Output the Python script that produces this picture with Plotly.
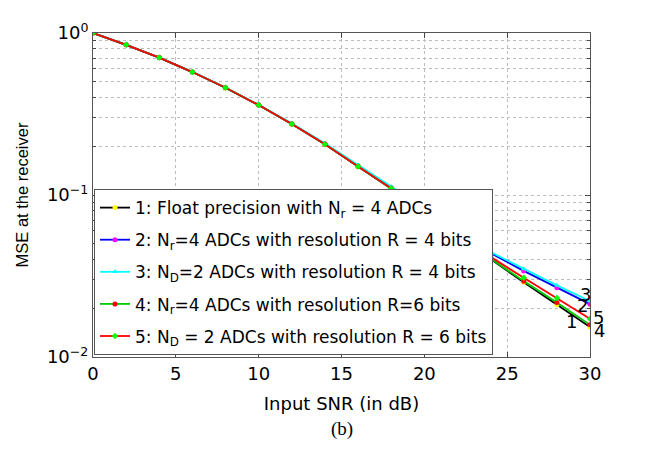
import math
import plotly.graph_objects as go

snr = [0, 2, 4, 6, 8, 10, 12, 14, 16, 18, 20, 22, 24, 26, 28, 30]

mse_float_nr4 = [1.0, 0.845, 0.705, 0.574, 0.459, 0.359, 0.274, 0.206, 0.150, 0.110, 0.0800, 0.0572, 0.0402, 0.0289, 0.0210, 0.0153]
mse_nr4_r4 = [1.0, 0.845, 0.705, 0.574, 0.459, 0.359, 0.275, 0.207, 0.151, 0.111, 0.0812, 0.0594, 0.0438, 0.0340, 0.0268, 0.0212]
mse_nd2_r4 = [1.0, 0.846, 0.706, 0.575, 0.460, 0.360, 0.276, 0.208, 0.153, 0.113, 0.0820, 0.0600, 0.0445, 0.0349, 0.0277, 0.0222]
mse_nr4_r6 = [1.0, 0.845, 0.705, 0.574, 0.459, 0.359, 0.274, 0.206, 0.150, 0.110, 0.0802, 0.0575, 0.0405, 0.0294, 0.0217, 0.0158]
mse_nd2_r6 = [1.0, 0.845, 0.705, 0.574, 0.459, 0.359, 0.274, 0.206, 0.150, 0.110, 0.0805, 0.0580, 0.0415, 0.0308, 0.0231, 0.0172]

names = [
    "1: Float precision with N<sub>r</sub> = 4 ADCs",
    "2: N<sub>r</sub>=4 ADCs with resolution R = 4 bits",
    "3: N<sub>D</sub>=2 ADCs with resolution R = 4 bits",
    "4: N<sub>r</sub>=4 ADCs with resolution R=6 bits",
    "5: N<sub>D</sub> = 2 ADCs with resolution R = 6 bits",
]

curve_labels = ["1", "2", "3", "4", "5"]
label_x = [28.9, 29.56, 29.7, 30.56, 30.5]
label_y = [0.01655, 0.0207, 0.0244, 0.0146, 0.0176]

y_tickvals = [1, 0.1, 0.01]
y_ticktext = ["10<sup>0</sup>", "10<sup>−1</sup>", "10<sup>−2</sup>"]
x_tickvals = [0, 5, 10, 15, 20, 25, 30]
x_max = 30

series = [mse_float_nr4, mse_nr4_r4, mse_nd2_r4, mse_nr4_r6, mse_nd2_r6]
line_colors = ["#000000", "#0000ff", "#00ffff", "#00cc00", "#ff0000"]
marker_colors = ["#ffff00", "#ff00ff", "#00ffff", "#ff0000", "#00ff00"]
marker_symbols = ["circle", "circle", "triangle-up", "circle", "diamond"]

SANS = "DejaVu Sans, Liberation Sans, Arial"

fig = go.Figure()
for i, (s, n, lc, mc, ms) in enumerate(zip(series, names, line_colors, marker_colors, marker_symbols)):
    fig.add_trace(go.Scatter(
        x=snr, y=s, name=n, mode="lines+markers", legendgroup=f"g{i}",
        line=dict(color=lc, width=1.8),
        marker=dict(color=mc, symbol=ms, size=5),
    ))

minor_vals = []
for dec in [0.01, 0.1]:
    for k in range(2, 10):
        minor_vals.append(k * dec)

# curve number labels (x in paper fraction so labels just past the right edge stay visible)
for lab, lx, ly in zip(curve_labels, label_x, label_y):
    fig.add_annotation(x=lx / x_max, y=math.log10(ly), yref="y", xref="paper", text=lab,
                       xanchor="center", yanchor="middle",
                       showarrow=False, font=dict(size=18, color="black", family=SANS))

fig.add_annotation(x=0.5, y=-0.222, xref="paper", yref="paper", text="(b)", showarrow=False,
                   font=dict(size=19, color="black", family="Liberation Serif, Times New Roman"),
                   xanchor="center", yanchor="middle")

fig.update_layout(
    width=654, height=451,
    margin=dict(l=85, r=72, t=20, b=102),
    paper_bgcolor="white", plot_bgcolor="white",
    font=dict(family=SANS, size=17, color="black"),
    showlegend=True,
    legend=dict(
        x=0.002, y=0.006, xanchor="left", yanchor="bottom",
        bgcolor="white", bordercolor="#555555", borderwidth=1,
        font=dict(size=17, color="black", family=SANS),
        itemwidth=30, tracegroupgap=7,
    ),
    xaxis=dict(
        range=[0, x_max], tickvals=x_tickvals, ticks="inside", ticklen=5,
        showline=True, linecolor="#555555", linewidth=1, mirror="ticks",
        showgrid=True, gridcolor="#bbbbbb", griddash="dot", gridwidth=1,
        zeroline=False, tickfont=dict(size=18),
        title=dict(text="Input SNR (in dB)", font=dict(size=18), standoff=14),
    ),
    yaxis=dict(
        type="log", range=[-2, 0], tickvals=y_tickvals, ticktext=y_ticktext,
        ticks="inside", ticklen=5,
        showline=True, linecolor="#555555", linewidth=1, mirror="ticks",
        showgrid=True, gridcolor="#bbbbbb", griddash="dot", gridwidth=1,
        zeroline=False, tickfont=dict(size=18),
        minor=dict(tickvals=minor_vals, ticks="inside", ticklen=3, showgrid=True,
                   gridcolor="#bbbbbb", griddash="dot", gridwidth=1),
        title=dict(text="MSE at the receiver", font=dict(size=16.5, family="Liberation Sans, Arial"), standoff=14),
    ),
)

fig.write_html("out.html")
